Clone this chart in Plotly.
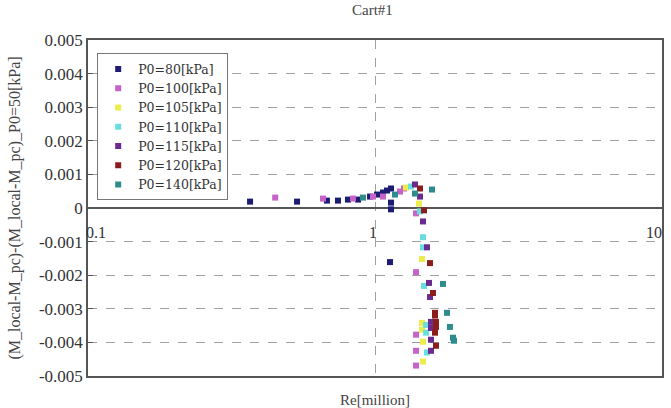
import math
import plotly.graph_objects as go

series_names = ["P0=80[kPa]", "P0=100[kPa]", "P0=105[kPa]", "P0=110[kPa]",
                "P0=115[kPa]", "P0=120[kPa]", "P0=140[kPa]"]

re_80 = [0.367, 0.535, 0.68, 0.743, 0.805, 0.873, 0.961, 1.016, 1.066, 1.101, 1.137, 1.137, 1.137, 1.128]
d_80 = [0.00019, 0.00019, 0.00022, 0.00022, 0.00025, 0.00025, 0.00034, 0.0004, 0.00046, 0.00052, 0.00058, 0.00016, -0.00004, -0.00161]

re_100 = [0.449, 0.659, 0.838, 0.984, 1.066, 1.222, 1.262, 1.39, 1.39, 1.39, 1.39, 1.39]
d_100 = [0.00031, 0.00028, 0.00028, 0.00034, 0.00034, 0.00049, 0.00058, -0.00016, -0.00191, -0.00377, -0.00425, -0.00469]

re_105 = [1.282, 1.423, 1.458, 1.458, 1.458, 1.47, 1.47]
d_105 = [0.00061, 0.00013, -0.00152, -0.00342, -0.00362, -0.00398, -0.00457]

re_110 = [1.335, 1.435, 1.47, 1.47, 1.482, 1.507, 1.507, 1.518]
d_110 = [0.00064, -0.0001, -0.00087, -0.00117, -0.00232, -0.00348, -0.00371, -0.0043]

re_115 = [1.378, 1.435, 1.47, 1.518, 1.542, 1.555, 1.567, 1.567, 1.567, 1.567]
d_115 = [0.0007, 0.00034, -0.0004, -0.00117, -0.00223, -0.00265, -0.00339, -0.00357, -0.00392, -0.00425]

re_120 = [1.435, 1.482, 1.555, 1.592, 1.618, 1.618, 1.631, 1.631, 1.618, 1.631]
d_120 = [0.00058, -0.00007, -0.00164, -0.00253, -0.00312, -0.0032, -0.00339, -0.00354, -0.00371, -0.0041]

re_140 = [0.908, 1.174, 1.378, 1.58, 1.725, 1.782, 1.824, 1.87, 1.885]
d_140 = [0.00031, 0.0004, 0.00043, 0.00055, -0.00226, -0.00312, -0.00354, -0.00386, -0.00395]

y_ticks = [0.005, 0.004, 0.003, 0.002, 0.001, 0, -0.001, -0.002, -0.003, -0.004, -0.005]
y_tick_labels = ["0.005", "0.004", "0.003", "0.002", "0.001", "0", "-0.001", "-0.002", "-0.003", "-0.004", "-0.005"]
x_ticks = [0.1, 1, 10]
x_tick_labels = ["0.1", "1", "10"]

colors = ["#1c1c72", "#c563c9", "#ecec4a", "#6adede", "#6a2a90", "#8a1c1c", "#2e8c8c"]
xs = [re_80, re_100, re_105, re_110, re_115, re_120, re_140]
ys = [d_80, d_100, d_105, d_110, d_115, d_120, d_140]

SERIF = "Liberation Serif"

fig = go.Figure()
for name, x, y, c in zip(series_names, xs, ys, colors):
    fig.add_trace(go.Scatter(x=x, y=y, mode="markers", name=name,
                             marker=dict(symbol="square", size=6, color=c, line=dict(width=0))))

x_shifts = [8, -2, -8]
for v, t, s in zip(x_ticks, x_tick_labels, x_shifts):
    fig.add_annotation(x=math.log10(v), y=0, xref="x", yref="y", text=t, showarrow=False,
                       yshift=-24, xshift=s, font=dict(family=SERIF, size=16, color="#333"))

fig.update_layout(
    width=671, height=408,
    margin=dict(l=88, r=9, t=40, b=32),
    paper_bgcolor="white", plot_bgcolor="white",
    font=dict(family=SERIF),
    title=dict(text="Cart#1", x=0.555, xanchor="center", y=0.99, yanchor="top",
               font=dict(family=SERIF, size=15, color="#444")),
    showlegend=True,
    legend=dict(x=0.016, y=0.96, xanchor="left", yanchor="top",
                bgcolor="white", bordercolor="#777", borderwidth=1,
                font=dict(family="DejaVu Serif", size=12.5, color="#333"),
                itemwidth=30, tracegroupgap=0),
    xaxis=dict(type="log", range=[-1, 1], showgrid=True, dtick=1, griddash="dash",
               gridcolor="#a0a0a0", gridwidth=1, showticklabels=False, ticks="",
               showline=True, mirror=True, linecolor="#555", linewidth=1.5, zeroline=False,
               automargin=False,
               title=dict(text="Re[million]", standoff=20,
                          font=dict(family=SERIF, size=15, color="#444"))),
    yaxis=dict(range=[-0.005, 0.005], tickvals=y_ticks, ticktext=y_tick_labels,
               showgrid=True, griddash="dash", gridcolor="#a0a0a0", gridwidth=1,
               zeroline=True, zerolinecolor="#555", zerolinewidth=1.5,
               showline=True, mirror=True, linecolor="#555", linewidth=1.5,
               ticks="inside", ticklen=5, tickcolor="#555", automargin=False,
               tickfont=dict(family=SERIF, size=17, color="#333"),
               title=dict(text="(M_local-M_pc)-(M_local-M_pc)_P0=50[kPa]", standoff=14,
                          font=dict(family=SERIF, size=16, color="#444"))),
)

fig.write_html("out.html")
